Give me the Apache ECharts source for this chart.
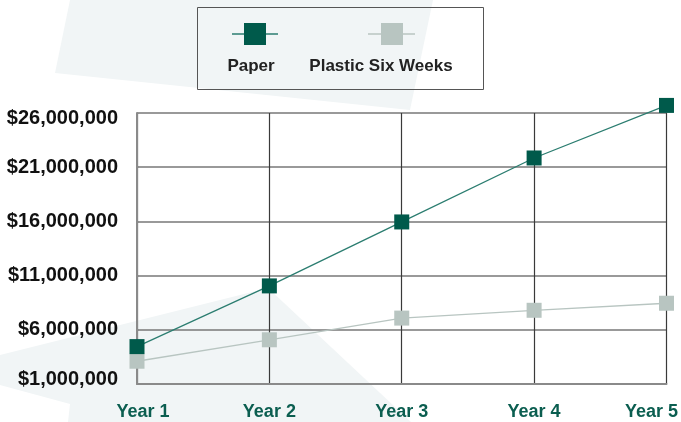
<!DOCTYPE html>
<html>
<head>
<meta charset="utf-8">
<script src="https://cdn.jsdelivr.net/npm/echarts@6/dist/echarts.min.js"></script>
<style>
html,body{margin:0;padding:0;background:#fff;}
#c{width:681px;height:422px;}
</style>
</head>
<body>
<div id="c"></div>
<script>
const categories = ['Year 1', 'Year 2', 'Year 3', 'Year 4', 'Year 5'];
const paper = [4450000, 10050000, 15950000, 21850000, 26700000];
const plastic = [3100000, 5080000, 7080000, 7800000, 8450000];
const seriesNames = ['Paper', 'Plastic Six Weeks'];
const yTicks = { min: 1000000, max: 26000000, interval: 5000000 };

const PAPER = '#005a4b', PAPER_LINE = '#2b7d70';
const PLASTIC = '#b8c5c1';
const BG = '#f1f5f6';
const FONT = '"Liberation Sans", Arial, sans-serif';

function fmtMoney(v) {
  return '$' + v.toLocaleString('en-US');
}

const chart = echarts.init(document.getElementById('c'), null, { renderer: 'canvas' });
chart.setOption({
  animation: false,
  backgroundColor: '#ffffff',
  grid: { left: 137, right: 13, top: 113, bottom: 38, containLabel: false },
  graphic: [
    { type: 'polygon', z: -10, silent: true,
      shape: { points: [[70, 0], [433, 0], [410, 110], [55, 73]] },
      style: { fill: BG } },
    { type: 'polygon', z: -10, silent: true,
      shape: { points: [[0, 355], [268, 288], [411, 422], [68, 422], [70, 404], [0, 385]] },
      style: { fill: BG } },
    { type: 'rect', z: 10, silent: true,
      shape: { x: 197.5, y: 7.5, width: 286, height: 82 },
      style: { fill: 'transparent', stroke: '#555', lineWidth: 1 } },
    { type: 'line', z: 10, shape: { x1: 232, y1: 34, x2: 278, y2: 34 },
      style: { stroke: PAPER_LINE, lineWidth: 1.5 } },
    { type: 'rect', z: 11, shape: { x: 244, y: 23, width: 22, height: 22 },
      style: { fill: PAPER } },
    { type: 'line', z: 10, shape: { x1: 368, y1: 34, x2: 415, y2: 34 },
      style: { stroke: PLASTIC, lineWidth: 1.5 } },
    { type: 'rect', z: 11, shape: { x: 381, y: 23, width: 22, height: 22 },
      style: { fill: PLASTIC } },
    { type: 'text', z: 11, x: 251, y: 66,
      style: { text: seriesNames[0], fill: '#222', font: 'bold 17px ' + FONT, textAlign: 'center', textVerticalAlign: 'middle' } },
    { type: 'text', z: 11, x: 381, y: 66,
      style: { text: seriesNames[1], fill: '#222', font: 'bold 17px ' + FONT, textAlign: 'center', textVerticalAlign: 'middle' } }
  ],
  xAxis: {
    type: 'category',
    data: categories,
    boundaryGap: false,
    axisLine: { show: true, lineStyle: { color: '#8a8a8a', width: 2 } },
    axisTick: { show: false },
    splitLine: { show: true, interval: 0, lineStyle: { color: '#3a3a3a', width: 1.2 } },
    axisLabel: {
      interval: 0, margin: 19, color: '#0b5e50', fontSize: 18, fontWeight: 'bold', fontFamily: FONT,
      formatter: function (v, i) {
        if (i === 0) return '{first|' + v + '}';
        if (i === categories.length - 1) return '{last|' + v + '}';
        return v;
      },
      rich: {
        first: { color: '#0b5e50', fontSize: 18, fontWeight: 'bold', fontFamily: FONT, padding: [0, 0, 0, 12] },
        last: { color: '#0b5e50', fontSize: 18, fontWeight: 'bold', fontFamily: FONT, padding: [0, 30, 0, 0] }
      }
    }
  },
  yAxis: {
    type: 'value',
    min: yTicks.min, max: yTicks.max, interval: yTicks.interval,
    axisLine: { show: true, lineStyle: { color: '#8a8a8a', width: 2 } },
    axisTick: { show: false },
    splitLine: { show: true, lineStyle: { color: '#777', width: 1.5 } },
    axisLabel: {
      margin: 19, color: '#111', fontSize: 20, fontWeight: 'bold', fontFamily: FONT,
      formatter: function (v) {
        if (v === yTicks.max) return '{top|' + fmtMoney(v) + '}';
        if (v === yTicks.min) return '{bot|' + fmtMoney(v) + '}';
        return fmtMoney(v);
      },
      rich: {
        top: { color: '#111', fontSize: 20, fontWeight: 'bold', fontFamily: FONT, padding: [10, 0, 0, 0] },
        bot: { color: '#111', fontSize: 20, fontWeight: 'bold', fontFamily: FONT, padding: [0, 0, 10, 0] }
      }
    }
  },
  series: [
    {
      name: seriesNames[1], type: 'line', data: plastic,
      symbol: 'rect', symbolSize: 15,
      lineStyle: { color: PLASTIC, width: 1.3 },
      itemStyle: { color: PLASTIC },
      z: 3, clip: false
    },
    {
      name: seriesNames[0], type: 'line', data: paper,
      symbol: 'rect', symbolSize: 15,
      lineStyle: { color: PAPER_LINE, width: 1.3 },
      itemStyle: { color: PAPER },
      z: 4, clip: false
    }
  ]
});
</script>
</body>
</html>
